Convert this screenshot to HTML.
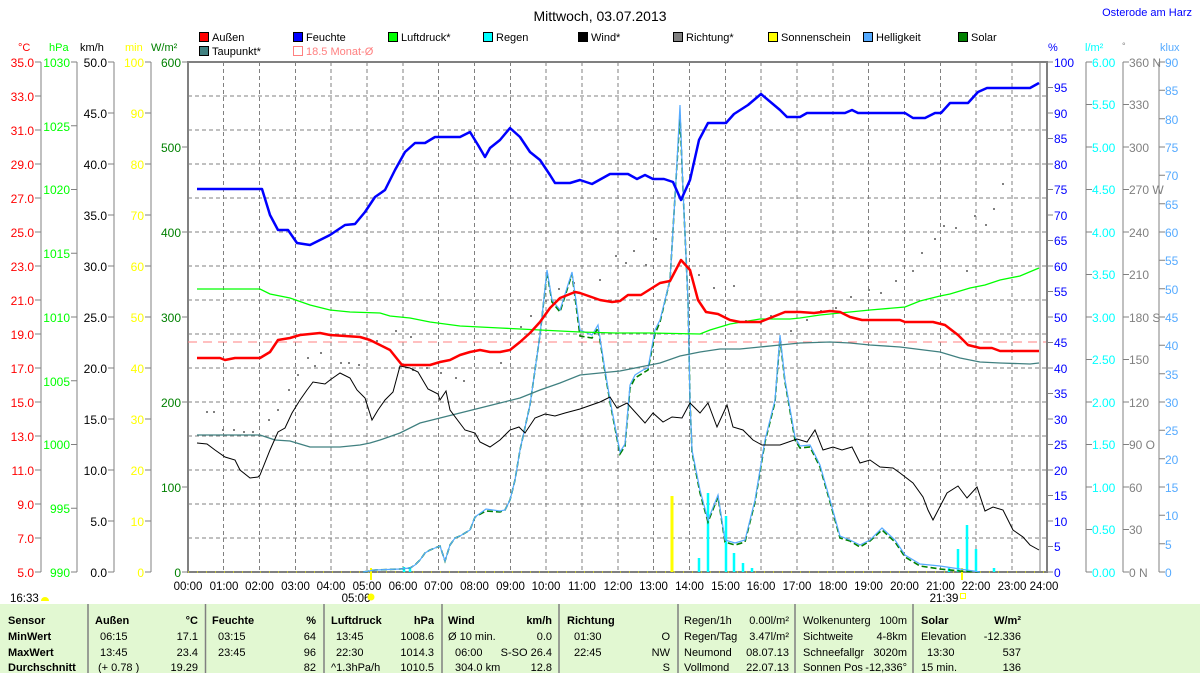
<!DOCTYPE html>
<html><head><meta charset="utf-8"><style>
body{margin:0;background:#fff;}
svg{display:block;font-family:"Liberation Sans",Arial,sans-serif;}
</style></head><body>
<svg width="1200" height="673" viewBox="0 0 1200 673" xmlns="http://www.w3.org/2000/svg">
<rect width="1200" height="673" fill="#fff"/>
<text x="600" y="21" font-size="14" text-anchor="middle" fill="#000">Mittwoch, 03.07.2013</text>
<text x="1192" y="16" font-size="11" text-anchor="end" fill="#0000ff">Osterode am Harz</text>

<g font-size="11" fill="#000">
<rect x="199.5" y="32.5" width="9" height="9" fill="#ff0000" stroke="#000"/><text x="212" y="41">Außen</text>
<rect x="293.5" y="32.5" width="9" height="9" fill="#0000ff" stroke="#000"/><text x="306" y="41">Feuchte</text>
<rect x="388.5" y="32.5" width="9" height="9" fill="#00ff00" stroke="#000"/><text x="401" y="41">Luftdruck*</text>
<rect x="483.5" y="32.5" width="9" height="9" fill="#00ffff" stroke="#000"/><text x="496" y="41">Regen</text>
<rect x="578.5" y="32.5" width="9" height="9" fill="#000" stroke="#000"/><text x="591" y="41">Wind*</text>
<rect x="673.5" y="32.5" width="9" height="9" fill="#808080" stroke="#000"/><text x="686" y="41">Richtung*</text>
<rect x="768.5" y="32.5" width="9" height="9" fill="#ffff00" stroke="#000"/><text x="781" y="41">Sonnenschein</text>
<rect x="863.5" y="32.5" width="9" height="9" fill="#55aaff" stroke="#000"/><text x="876" y="41">Helligkeit</text>
<rect x="958.5" y="32.5" width="9" height="9" fill="#008000" stroke="#000"/><text x="971" y="41">Solar</text>
<rect x="199.5" y="46.5" width="9" height="9" fill="#408080" stroke="#000"/><text x="212" y="55">Taupunkt*</text>
<rect x="293.5" y="46.5" width="9" height="9" fill="none" stroke="#ff8080"/><text x="306" y="55" fill="#ff8080">18.5 Monat-Ø</text>
</g>

<g font-size="11">
<text x="18" y="51" fill="#ff0000">°C</text>
<text x="49" y="51" fill="#00ff00">hPa</text>
<text x="80" y="51" fill="#000">km/h</text>
<text x="125" y="51" fill="#ffff00">min</text>
<text x="151" y="51" fill="#008000">W/m²</text>
<text x="1048" y="51" fill="#0000ff">%</text>
<text x="1085" y="51" fill="#00ffff">l/m²</text>
<text x="1122" y="49" fill="#808080" font-size="9">°</text>
<text x="1160" y="51" fill="#55aaff">klux</text>
</g>

<g stroke="#808080" stroke-width="1" stroke-dasharray="4,3">
<path d="M188 96H1046M188 130H1046M188 164H1046M188 198H1046M188 232H1046M188 266H1046M188 300H1046M188 334H1046M188 368H1046M188 402H1046M188 436H1046M188 470H1046M188 504H1046M188 538H1046"/>
<path d="M223.5 62V572M259.5 62V572M295.5 62V572M331 62V572M367 62V572M403 62V572M438.5 62V572M474.5 62V572M510.5 62V572M546 62V572M582 62V572M618 62V572M653.5 62V572M689.5 62V572M725.5 62V572M761 62V572M797 62V572M833 62V572M868.5 62V572M904.5 62V572M940.5 62V572M976 62V572M1012 62V572"/>
</g>
<line x1="1040" y1="62" x2="1040" y2="572" stroke="#808080"/>
<rect x="188" y="62" width="859" height="510" fill="none" stroke="#808080" stroke-width="2"/>
<line x1="188" y1="572" x2="1046" y2="572" stroke="#ffff00" stroke-dasharray="1,8"/>

<g stroke="#808080" fill="none">
<path d="M41 62V572M77 62V572M114 62V572M151 62V572"/>
<path d="M35 62H41M35 96H41M35 130H41M35 164H41M35 198H41M35 232H41M35 266H41M35 300H41M35 334H41M35 368H41M35 402H41M35 436H41M35 470H41M35 504H41M35 538H41M35 572H41"/>
<path d="M71 62H77M71 125.75H77M71 189.5H77M71 253.25H77M71 317H77M71 380.75H77M71 444.5H77M71 508.25H77M71 572H77"/>
<path d="M108 62H114M108 113H114M108 164H114M108 215H114M108 266H114M108 317H114M108 368H114M108 419H114M108 470H114M108 521H114M108 572H114"/>
<path d="M145 62H151M145 113H151M145 164H151M145 215H151M145 266H151M145 317H151M145 368H151M145 419H151M145 470H151M145 521H151M145 572H151"/>
<path d="M182 62H188M182 147H188M182 232H188M182 317H188M182 402H188M182 487H188M182 572H188"/>
</g>
<g font-size="12" text-anchor="end">
<g fill="#ff0000">
<text x="34" y="67">35.0</text><text x="34" y="101">33.0</text><text x="34" y="135">31.0</text><text x="34" y="169">29.0</text><text x="34" y="203">27.0</text><text x="34" y="237">25.0</text><text x="34" y="271">23.0</text><text x="34" y="305">21.0</text><text x="34" y="339">19.0</text><text x="34" y="373">17.0</text><text x="34" y="407">15.0</text><text x="34" y="441">13.0</text><text x="34" y="475">11.0</text><text x="34" y="509">9.0</text><text x="34" y="543">7.0</text><text x="34" y="577">5.0</text>
</g>
<g fill="#00ff00">
<text x="70" y="67">1030</text><text x="70" y="131">1025</text><text x="70" y="194">1020</text><text x="70" y="258">1015</text><text x="70" y="322">1010</text><text x="70" y="386">1005</text><text x="70" y="449">1000</text><text x="70" y="513">995</text><text x="70" y="577">990</text>
</g>
<g fill="#000">
<text x="107" y="67">50.0</text><text x="107" y="118">45.0</text><text x="107" y="169">40.0</text><text x="107" y="220">35.0</text><text x="107" y="271">30.0</text><text x="107" y="322">25.0</text><text x="107" y="373">20.0</text><text x="107" y="424">15.0</text><text x="107" y="475">10.0</text><text x="107" y="526">5.0</text><text x="107" y="577">0.0</text>
</g>
<g fill="#ffff00">
<text x="144" y="67">100</text><text x="144" y="118">90</text><text x="144" y="169">80</text><text x="144" y="220">70</text><text x="144" y="271">60</text><text x="144" y="322">50</text><text x="144" y="373">40</text><text x="144" y="424">30</text><text x="144" y="475">20</text><text x="144" y="526">10</text><text x="144" y="577">0</text>
</g>
<g fill="#008000">
<text x="181" y="67">600</text><text x="181" y="152">500</text><text x="181" y="237">400</text><text x="181" y="322">300</text><text x="181" y="407">200</text><text x="181" y="492">100</text><text x="181" y="577">0</text>
</g>
</g>

<g stroke="#808080" fill="none">
<path d="M1086 62V572M1123 62V572M1159 62V572"/>
<path d="M1047 62H1053M1047 87.5H1053M1047 113H1053M1047 138.5H1053M1047 164H1053M1047 189.5H1053M1047 215H1053M1047 240.5H1053M1047 266H1053M1047 291.5H1053M1047 317H1053M1047 342.5H1053M1047 368H1053M1047 393.5H1053M1047 419H1053M1047 444.5H1053M1047 470H1053M1047 495.5H1053M1047 521H1053M1047 546.5H1053M1047 572H1053"/>
<path d="M1086 62H1092M1086 104.5H1092M1086 147H1092M1086 189.5H1092M1086 232H1092M1086 274.5H1092M1086 317H1092M1086 359.5H1092M1086 402H1092M1086 444.5H1092M1086 487H1092M1086 529.5H1092M1086 572H1092"/>
<path d="M1123 62H1129M1123 104.5H1129M1123 147H1129M1123 189.5H1129M1123 232H1129M1123 274.5H1129M1123 317H1129M1123 359.5H1129M1123 402H1129M1123 444.5H1129M1123 487H1129M1123 529.5H1129M1123 572H1129"/>
<path d="M1159 62H1165M1159 90.3H1165M1159 118.7H1165M1159 147H1165M1159 175.3H1165M1159 203.7H1165M1159 232H1165M1159 260.3H1165M1159 288.7H1165M1159 317H1165M1159 345.3H1165M1159 373.7H1165M1159 402H1165M1159 430.3H1165M1159 458.7H1165M1159 487H1165M1159 515.3H1165M1159 543.7H1165M1159 572H1165"/>
</g>
<g font-size="12">
<g fill="#0000ff">
<text x="1054" y="67">100</text><text x="1054" y="92">95</text><text x="1054" y="118">90</text><text x="1054" y="143">85</text><text x="1054" y="169">80</text><text x="1054" y="194">75</text><text x="1054" y="220">70</text><text x="1054" y="245">65</text><text x="1054" y="271">60</text><text x="1054" y="296">55</text><text x="1054" y="322">50</text><text x="1054" y="347">45</text><text x="1054" y="373">40</text><text x="1054" y="398">35</text><text x="1054" y="424">30</text><text x="1054" y="449">25</text><text x="1054" y="475">20</text><text x="1054" y="500">15</text><text x="1054" y="526">10</text><text x="1054" y="551">5</text><text x="1054" y="577">0</text>
</g>
<g fill="#00ffff">
<text x="1092" y="67">6.00</text><text x="1092" y="109">5.50</text><text x="1092" y="152">5.00</text><text x="1092" y="194">4.50</text><text x="1092" y="237">4.00</text><text x="1092" y="279">3.50</text><text x="1092" y="322">3.00</text><text x="1092" y="364">2.50</text><text x="1092" y="407">2.00</text><text x="1092" y="449">1.50</text><text x="1092" y="492">1.00</text><text x="1092" y="534">0.50</text><text x="1092" y="577">0.00</text>
</g>
<g fill="#808080">
<text x="1129" y="67">360 N</text><text x="1129" y="109">330</text><text x="1129" y="152">300</text><text x="1129" y="194">270 W</text><text x="1129" y="237">240</text><text x="1129" y="279">210</text><text x="1129" y="322">180 S</text><text x="1129" y="364">150</text><text x="1129" y="407">120</text><text x="1129" y="449">90 O</text><text x="1129" y="492">60</text><text x="1129" y="534">30</text><text x="1129" y="577">0 N</text>
</g>
<g fill="#55aaff">
<text x="1165" y="67">90</text><text x="1165" y="95">85</text><text x="1165" y="124">80</text><text x="1165" y="152">75</text><text x="1165" y="180">70</text><text x="1165" y="209">65</text><text x="1165" y="237">60</text><text x="1165" y="265">55</text><text x="1165" y="294">50</text><text x="1165" y="322">45</text><text x="1165" y="350">40</text><text x="1165" y="379">35</text><text x="1165" y="407">30</text><text x="1165" y="435">25</text><text x="1165" y="464">20</text><text x="1165" y="492">15</text><text x="1165" y="520">10</text><text x="1165" y="549">5</text><text x="1165" y="577">0</text>
</g>
</g>

<g font-size="11.5" text-anchor="middle" fill="#000">
<text x="188" y="590">00:00</text><text x="224" y="590">01:00</text><text x="259.5" y="590">02:00</text><text x="295.5" y="590">03:00</text><text x="331" y="590">04:00</text><text x="367" y="590">05:00</text><text x="403" y="590">06:00</text><text x="438.5" y="590">07:00</text><text x="474.5" y="590">08:00</text><text x="510.5" y="590">09:00</text><text x="546" y="590">10:00</text><text x="582" y="590">11:00</text><text x="618" y="590">12:00</text><text x="653.5" y="590">13:00</text><text x="689.5" y="590">14:00</text><text x="725.5" y="590">15:00</text><text x="761" y="590">16:00</text><text x="797" y="590">17:00</text><text x="833" y="590">18:00</text><text x="868.5" y="590">19:00</text><text x="904.5" y="590">20:00</text><text x="940.5" y="590">21:00</text><text x="976" y="590">22:00</text><text x="1012" y="590">23:00</text><text x="1044" y="590">24:00</text>
<text x="356" y="602">05:06</text><text x="944" y="602">21:39</text>
</g>
<text x="10" y="602" font-size="11.5" fill="#000">16:33</text>
<path d="M41 601a4 4 0 0 1 8 0z" fill="#ffff00"/>
<circle cx="371" cy="597" r="3.5" fill="#ffff00"/>
<rect x="960.5" y="593.5" width="5" height="5" fill="none" stroke="#ffff00"/>

<g stroke="#00ffff" stroke-width="2.5">
<path d="M404 572V567M410 572V567M699 572V558M708 572V493M726 572V516M734 572V553M743 572V563M752 572V568M949 572V568M958 572V549M967 572V525M976 572V549M994 572V568"/>
</g>
<path d="M672 572V496" stroke="#ffff00" stroke-width="3"/>
<path d="M371 568V580M962 568V580" stroke="#ffff00" stroke-width="2"/>

<line x1="188" y1="342" x2="1046" y2="342" stroke="#ff8080" stroke-dasharray="9,6"/>

<g fill="#808080">
<rect x="206" y="411" width="2" height="2"/><rect x="213" y="411" width="2" height="2"/><rect x="222" y="429" width="2" height="2"/><rect x="233" y="429" width="2" height="2"/><rect x="243" y="431" width="2" height="2"/><rect x="252" y="431" width="2" height="2"/><rect x="268" y="419" width="2" height="2"/><rect x="277" y="409" width="2" height="2"/><rect x="288" y="389" width="2" height="2"/><rect x="297" y="374" width="2" height="2"/><rect x="307" y="357" width="2" height="2"/><rect x="314" y="365" width="2" height="2"/><rect x="320" y="352" width="2" height="2"/><rect x="340" y="362" width="2" height="2"/><rect x="348" y="362" width="2" height="2"/><rect x="358" y="364" width="2" height="2"/><rect x="376" y="340" width="2" height="2"/><rect x="395" y="330" width="2" height="2"/><rect x="410" y="336" width="2" height="2"/><rect x="412" y="369" width="2" height="2"/><rect x="426" y="367" width="2" height="2"/><rect x="440" y="372" width="2" height="2"/><rect x="455" y="377" width="2" height="2"/><rect x="463" y="380" width="2" height="2"/><rect x="500" y="362" width="2" height="2"/><rect x="520" y="326" width="2" height="2"/><rect x="530" y="315" width="2" height="2"/><rect x="545" y="300" width="2" height="2"/><rect x="558" y="288" width="2" height="2"/><rect x="573" y="282" width="2" height="2"/><rect x="599" y="279" width="2" height="2"/><rect x="615" y="255" width="2" height="2"/><rect x="625" y="262" width="2" height="2"/><rect x="633" y="250" width="2" height="2"/><rect x="645" y="264" width="2" height="2"/><rect x="655" y="238" width="2" height="2"/><rect x="698" y="274" width="2" height="2"/><rect x="713" y="287" width="2" height="2"/><rect x="733" y="285" width="2" height="2"/><rect x="745" y="320" width="2" height="2"/><rect x="760" y="322" width="2" height="2"/><rect x="770" y="315" width="2" height="2"/><rect x="790" y="330" width="2" height="2"/><rect x="806" y="319" width="2" height="2"/><rect x="820" y="310" width="2" height="2"/><rect x="835" y="307" width="2" height="2"/><rect x="850" y="296" width="2" height="2"/><rect x="868" y="289" width="2" height="2"/><rect x="880" y="292" width="2" height="2"/><rect x="895" y="280" width="2" height="2"/><rect x="912" y="270" width="2" height="2"/><rect x="921" y="252" width="2" height="2"/><rect x="934" y="238" width="2" height="2"/><rect x="943" y="225" width="2" height="2"/><rect x="955" y="227" width="2" height="2"/><rect x="966" y="270" width="2" height="2"/><rect x="974" y="215" width="2" height="2"/><rect x="985" y="224" width="2" height="2"/><rect x="993" y="208" width="2" height="2"/><rect x="1002" y="183" width="2" height="2"/></g>

<polyline fill="none" stroke="#008000" stroke-width="1.6" stroke-dasharray="6,3" points="363,572 375,570 400,569 410,568 415,565 420,560 425,553 430,550 440,546 445,561 450,545 455,538 460,536 470,530 475,517 486,511 500,512 505,510 510,500 515,480 520,450 530,405 540,335 547,272 552,302 560,312 572,274 580,336 592,338 598,328 605,372 610,402 620,454 625,446 630,388 635,378 643,373 648,370 655,334 660,322 670,280 676,180 680,115 683,190 688,300 690,400 692,452 700,493 708,522 718,497 725,542 735,545 745,542 755,502 765,442 775,402 780,338 785,382 795,440 800,448 810,447 820,467 830,502 840,538 850,541 860,547 870,541 882,530 895,542 905,557 920,566 940,569 960,571 980,572"/>
<polyline fill="none" stroke="#55aaff" stroke-width="1.2" points="363,572 375,570 400,569 410,568 415,565 420,560 425,553 430,550 440,546 445,561 450,545 455,538 460,536 470,530 475,517 486,509 500,511 505,510 510,500 515,480 520,450 530,405 540,335 547,270 552,300 560,310 572,272 580,330 592,335 598,325 605,370 610,400 620,452 625,444 630,385 635,375 643,370 648,368 655,330 660,320 670,280 676,180 680,105 683,190 688,300 690,400 692,450 700,490 708,520 718,495 725,540 735,543 745,540 755,500 765,440 775,400 780,335 785,380 795,437 800,446 810,445 820,465 830,500 840,536 850,540 860,545 870,540 882,528 895,540 905,555 920,564 940,566 960,569 980,572"/>

<polyline fill="none" stroke="#408080" stroke-width="1.3" points="197,435 220,435 260,435 275,440 290,441 300,444 310,447 340,447 360,445 370,443 380,440 400,433 420,423 440,418 460,413 480,408 500,403 520,398 540,390 560,383 580,375 600,373 620,371 640,367 660,363 680,356 700,352 720,349 740,349 760,347 780,345 800,343 830,342 850,343 870,345 900,347 940,352 960,358 980,362 1000,363 1030,364 1039,363"/>
<polyline fill="none" stroke="#00ff00" stroke-width="1.3" points="197,289 260,289 270,294 290,298 310,305 330,310 350,312 380,313 390,316 410,318 430,322 460,326 500,328 540,330 580,332 615,333 650,333 700,334 710,330 730,324 760,319 790,319 800,318 820,315 840,313 870,310 905,307 920,301 940,296 950,294 970,288 985,285 1000,280 1020,276 1039,268"/>
<polyline fill="none" stroke="#000" stroke-width="1" points="197,443 207,444 215,450 225,457 235,460 240,470 250,478 258,477 260,475 270,450 278,432 285,428 292,413 300,400 307,390 313,382 325,384 330,380 340,373 350,378 357,390 365,398 372,420 378,410 385,400 393,392 400,366 410,368 418,372 428,389 438,394 440,400 446,391 450,410 465,430 475,433 480,442 490,447 500,440 510,430 519,427 525,433 535,418 545,414 555,416 565,413 580,409 600,402 610,397 617,408 627,403 645,423 653,413 663,422 672,417 682,418 690,403 700,413 708,403 717,427 727,405 733,427 743,430 753,440 762,445 780,445 797,439 807,442 815,430 823,450 833,447 842,450 852,447 860,463 870,460 880,467 893,468 900,473 913,483 923,497 928,510 933,520 947,493 958,486 967,498 977,487 985,511 993,507 1003,510 1013,530 1023,537 1030,545 1039,550"/>
<polyline fill="none" stroke="#ff0000" stroke-width="2.5" stroke-linejoin="round" points="197,358 220,358 225,360 235,358 260,358 270,352 278,340 290,338 300,335 320,333 330,335 360,337 370,340 380,345 390,350 402,365 430,365 440,362 450,360 460,355 470,352 480,350 490,352 500,352 510,350 520,342 530,333 540,322 550,308 560,298 575,292 580,293 600,300 612,302 620,301 628,295 641,295 660,283 670,281 681,260 690,270 698,300 706,312 718,314 730,320 740,322 760,322 770,318 785,312 800,312 814,313 830,311 840,312 850,317 862,320 900,320 905,322 933,322 945,325 958,335 968,345 980,348 992,348 1000,351 1039,351"/>
<polyline fill="none" stroke="#0000ff" stroke-width="2.5" stroke-linejoin="round" points="197,189 262,189 270,215 278,230 288,230 297,243 310,245 320,240 330,235 345,225 355,224 365,212 375,197 385,190 395,170 405,152 415,143 425,143 435,137 460,137 470,132 478,145 485,157 490,148 500,140 510,128 520,137 530,152 540,160 550,175 555,183 570,183 580,180 592,184 610,174 628,174 637,179 645,175 653,179 664,179 673,182 681,200 690,180 699,140 708,123 726,123 734,114 748,105 761,94 780,110 787,117 800,117 807,113 845,113 852,110 858,113 905,113 913,118 925,118 935,113 941,113 950,103 968,103 978,92 987,88 1030,88 1039,83"/>

<rect x="0" y="604" width="1200" height="69" fill="#e2f8d2"/>
<g stroke="#808080" stroke-width="1.5">
<path d="M88 604V673M205.5 604V673M324 604V673M442 604V673M559 604V673M678 604V673M795 604V673M913 604V673"/>
</g>
<g font-size="11" fill="#000">
<g font-weight="bold">
<text x="8" y="624">Sensor</text><text x="8" y="640">MinWert</text><text x="8" y="656">MaxWert</text><text x="8" y="671">Durchschnitt</text>
<text x="95" y="624">Außen</text><text x="198" y="624" text-anchor="end">°C</text>
<text x="212" y="624">Feuchte</text><text x="316" y="624" text-anchor="end">%</text>
<text x="331" y="624">Luftdruck</text><text x="434" y="624" text-anchor="end">hPa</text>
<text x="448" y="624">Wind</text><text x="552" y="624" text-anchor="end">km/h</text>
<text x="567" y="624">Richtung</text>
<text x="921" y="624">Solar</text><text x="1021" y="624" text-anchor="end">W/m²</text>
</g>
<text x="100" y="640">06:15</text><text x="198" y="640" text-anchor="end">17.1</text>
<text x="100" y="656">13:45</text><text x="198" y="656" text-anchor="end">23.4</text>
<text x="98" y="671">(+ 0.78 )</text><text x="198" y="671" text-anchor="end">19.29</text>
<text x="218" y="640">03:15</text><text x="316" y="640" text-anchor="end">64</text>
<text x="218" y="656">23:45</text><text x="316" y="656" text-anchor="end">96</text>
<text x="316" y="671" text-anchor="end">82</text>
<text x="336" y="640">13:45</text><text x="434" y="640" text-anchor="end">1008.6</text>
<text x="336" y="656">22:30</text><text x="434" y="656" text-anchor="end">1014.3</text>
<text x="331" y="671">^1.3hPa/h</text><text x="434" y="671" text-anchor="end">1010.5</text>
<text x="448" y="640">Ø 10 min.</text><text x="552" y="640" text-anchor="end">0.0</text>
<text x="455" y="656">06:00</text><text x="552" y="656" text-anchor="end">S-SO 26.4</text>
<text x="455" y="671">304.0 km</text><text x="552" y="671" text-anchor="end">12.8</text>
<text x="574" y="640">01:30</text><text x="670" y="640" text-anchor="end">O</text>
<text x="574" y="656">22:45</text><text x="670" y="656" text-anchor="end">NW</text>
<text x="670" y="671" text-anchor="end">S</text>
<text x="684" y="624">Regen/1h</text><text x="789" y="624" text-anchor="end">0.00l/m²</text>
<text x="684" y="640">Regen/Tag</text><text x="789" y="640" text-anchor="end">3.47l/m²</text>
<text x="684" y="656">Neumond</text><text x="789" y="656" text-anchor="end">08.07.13</text>
<text x="684" y="671">Vollmond</text><text x="789" y="671" text-anchor="end">22.07.13</text>
<text x="803" y="624">Wolkenunterg</text><text x="907" y="624" text-anchor="end">100m</text>
<text x="803" y="640">Sichtweite</text><text x="907" y="640" text-anchor="end">4-8km</text>
<text x="803" y="656">Schneefallgr</text><text x="907" y="656" text-anchor="end">3020m</text>
<text x="803" y="671">Sonnen Pos</text><text x="907" y="671" text-anchor="end">-12,336°</text>
<text x="921" y="640">Elevation</text><text x="1021" y="640" text-anchor="end">-12.336</text>
<text x="927" y="656">13:30</text><text x="1021" y="656" text-anchor="end">537</text>
<text x="921" y="671">15 min.</text><text x="1021" y="671" text-anchor="end">136</text>
</g>
</svg>
</body></html>
